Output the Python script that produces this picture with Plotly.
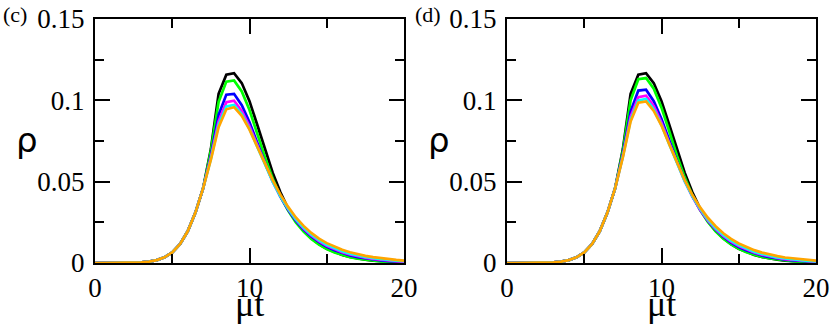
import plotly.graph_objects as go

# time grid (mu t)
T = [0, 0.5, 1, 1.5, 2, 2.5, 3, 3.5, 4, 4.5, 5, 5.5, 6, 6.5, 7, 7.5, 8, 8.5, 9, 9.5, 10,
     10.5, 11, 11.5, 12, 12.5, 13, 13.5, 14, 14.5, 15, 15.5, 16, 16.5, 17, 17.5, 18,
     18.5, 19, 19.5, 20]

# rising part shared by all curves (t = 0 .. 7)
RISE = [0, 0, 0, 0, 0.0001, 0.0002, 0.0004, 0.0009, 0.0018, 0.0035, 0.0065, 0.0115,
        0.0195, 0.031, 0.046]

# panel (c), t = 7.5 .. 20
c_black = [0.070, 0.104, 0.1157, 0.1167, 0.1106, 0.0995, 0.085, 0.0695, 0.0555, 0.0435,
           0.0335, 0.0258, 0.0198, 0.0152, 0.0116, 0.0088, 0.0067, 0.005, 0.0037, 0.0028,
           0.002, 0.0015, 0.0011, 0.0008, 0.0006, 0.0004]
c_green = [0.069, 0.099, 0.1115, 0.1122, 0.1055, 0.094, 0.0795, 0.065, 0.052, 0.041,
           0.0322, 0.025, 0.0193, 0.0148, 0.0113, 0.0086, 0.0065, 0.0049, 0.0036, 0.0027,
           0.002, 0.0014, 0.001, 0.0007, 0.0005, 0.0003]
c_blue = [0.066, 0.091, 0.1035, 0.104, 0.097, 0.0865, 0.074, 0.0615, 0.0503, 0.0408,
          0.0328, 0.026, 0.0206, 0.0163, 0.0128, 0.01, 0.0078, 0.0061, 0.0047, 0.0036,
          0.0028, 0.0021, 0.0016, 0.0012, 0.0009, 0.0007]
c_magenta = [0.065, 0.087, 0.0988, 0.0998, 0.0935, 0.084, 0.0725, 0.061, 0.0502, 0.041,
             0.0332, 0.0266, 0.0212, 0.0169, 0.0134, 0.0106, 0.0084, 0.0066, 0.0052, 0.0041,
             0.0032, 0.0025, 0.0019, 0.0015, 0.0011, 0.0009]
c_cyan = [0.064, 0.085, 0.0962, 0.0972, 0.0915, 0.0825, 0.0715, 0.0605, 0.050, 0.041,
          0.0335, 0.027, 0.0218, 0.0175, 0.014, 0.0112, 0.009, 0.0072, 0.0058, 0.0046,
          0.0037, 0.0029, 0.0023, 0.0018, 0.0014, 0.0011]
c_orange = [0.0635, 0.0835, 0.0945, 0.0958, 0.0905, 0.082, 0.0715, 0.061, 0.051, 0.042,
            0.0345, 0.028, 0.0228, 0.0185, 0.015, 0.0122, 0.0099, 0.0081, 0.0066, 0.0054,
            0.0044, 0.0036, 0.0029, 0.0024, 0.0019, 0.0015]

# panel (d), t = 7.5 .. 20
d_black = [0.070, 0.104, 0.1157, 0.1167, 0.1106, 0.0995, 0.085, 0.0695, 0.0555, 0.0435,
           0.0335, 0.0258, 0.0198, 0.0152, 0.0116, 0.0088, 0.0067, 0.005, 0.0037, 0.0028,
           0.002, 0.0015, 0.0011, 0.0008, 0.0006, 0.0004]
d_green = [0.069, 0.100, 0.113, 0.1137, 0.1072, 0.0955, 0.081, 0.066, 0.0528, 0.0415,
           0.0325, 0.0252, 0.0194, 0.0149, 0.0114, 0.0087, 0.0066, 0.005, 0.0037, 0.0028,
           0.0021, 0.0015, 0.0011, 0.0008, 0.0006, 0.0004]
d_blue = [0.067, 0.093, 0.106, 0.1065, 0.0995, 0.0885, 0.0755, 0.0625, 0.051, 0.041,
          0.0328, 0.026, 0.0205, 0.0161, 0.0126, 0.0098, 0.0077, 0.006, 0.0046, 0.0036,
          0.0027, 0.0021, 0.0016, 0.0012, 0.0009, 0.0007]
d_magenta = [0.066, 0.090, 0.102, 0.1028, 0.0965, 0.0862, 0.0738, 0.0615, 0.0503, 0.0408,
             0.0328, 0.0262, 0.0209, 0.0166, 0.0131, 0.0104, 0.0082, 0.0065, 0.0051, 0.004,
             0.0031, 0.0024, 0.0019, 0.0015, 0.0011, 0.0009]
d_cyan = [0.0655, 0.088, 0.100, 0.1008, 0.0945, 0.0848, 0.073, 0.0612, 0.0503, 0.041,
          0.0333, 0.0268, 0.0215, 0.0172, 0.0138, 0.011, 0.0088, 0.007, 0.0056, 0.0044,
          0.0035, 0.0028, 0.0022, 0.0017, 0.0013, 0.001]
d_orange = [0.065, 0.087, 0.0985, 0.0993, 0.0935, 0.0845, 0.073, 0.0615, 0.051, 0.0418,
            0.0342, 0.0278, 0.0226, 0.0183, 0.0148, 0.012, 0.0097, 0.0079, 0.0064, 0.0052,
            0.0042, 0.0034, 0.0028, 0.0022, 0.0018, 0.0014]

COLORS = ["#000000", "#00ff00", "#0000ff", "#ff00ff", "#00ffff", "#ffa500"]
PANELS = [
    ("(c)", [c_black, c_green, c_blue, c_magenta, c_cyan, c_orange]),
    ("(d)", [d_black, d_green, d_blue, d_magenta, d_cyan, d_orange]),
]

X_TICKS = [0, 10, 20]
Y_TICKS = [0, 0.05, 0.1, 0.15]
Y_TICK_TEXT = ["0", "0.05", "0.1", "0.15"]

W, H = 830, 326
FONT = "Liberation Serif"

fig = go.Figure()

# pixel boxes of the two plot areas: (left, right)
x_boxes = [(95, 404), (507, 816)]
top, bottom = 19, 263

annotations = []
for i, (label, series) in enumerate(PANELS):
    xa = "x" if i == 0 else "x2"
    ya = "y" if i == 0 else "y2"
    for col, tail in zip(COLORS, series):
        fig.add_trace(go.Scatter(
            x=T, y=RISE + tail, mode="lines",
            line=dict(color=col, width=2.7),
            xaxis=xa, yaxis=ya, showlegend=False, hoverinfo="skip",
        ))
    left, right = x_boxes[i]
    axis_common = dict(
        showline=True, linecolor="black", linewidth=2, mirror="ticks",
        ticks="inside", ticklen=15, tickwidth=2, tickcolor="black",
        showgrid=False, zeroline=False, automargin=False,
        tickfont=dict(family=FONT, size=27, color="black"),
        minor=dict(ticks="inside", ticklen=9, tickwidth=2, tickcolor="black", showgrid=False),
    )
    fig.update_layout(**{
        ("xaxis" if i == 0 else "xaxis2"): dict(
            axis_common, domain=[left / W, right / W], range=[0, 20],
            tickvals=X_TICKS, minor_dtick=5, anchor=ya,
            ticklabelstandoff=0,
        ),
        ("yaxis" if i == 0 else "yaxis2"): dict(
            axis_common, domain=[1 - bottom / H, 1 - top / H], range=[0, 0.15],
            tickvals=Y_TICKS, ticktext=Y_TICK_TEXT, minor_dtick=0.025, anchor=xa,
            ticklabelstandoff=3,
        ),
    })
    annotations.append(dict(
        text=label, x=(left - 94) / W, y=1, xref="paper", yref="paper",
        xanchor="left", yanchor="top", showarrow=False,
        font=dict(family=FONT, size=22, color="black"),
    ))
    annotations.append(dict(
        text="ρ", x=(left - 68) / W, y=1 - 140 / H, xref="paper", yref="paper",
        xanchor="center", yanchor="middle", showarrow=False,
        font=dict(family="DejaVu Sans", size=34, color="black"),
    ))
    annotations.append(dict(
        text="μt", x=(left + right) / 2 / W, y=0, xref="paper", yref="paper",
        xanchor="center", yanchor="bottom", showarrow=False,
        font=dict(family=FONT, size=36, color="black"),
    ))

fig.update_layout(
    width=W, height=H,
    margin=dict(l=0, r=0, t=0, b=0),
    paper_bgcolor="white", plot_bgcolor="white",
    annotations=annotations,
)

# drop the default page margin so the figure sits at the window's corner
fig.write_html("out.html", config={"displayModeBar": False},
               post_script="document.body.style.margin='0';")
